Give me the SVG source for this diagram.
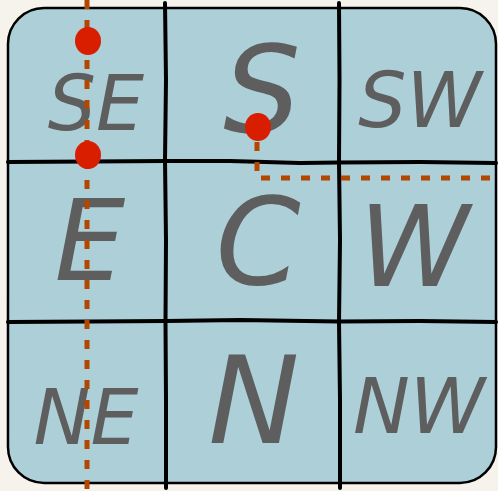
<svg xmlns="http://www.w3.org/2000/svg" width="498" height="491" viewBox="0 0 498 491">
  <style>
    .lbl { font-family: "DejaVu Sans", "Liberation Sans", sans-serif; font-style: italic; fill: #5e5e5e; text-anchor: middle; }
    .big { font-size: 122px; }
    .mid { font-size: 112px; }
    .sm { font-size: 76px; }
    .grid { fill: none; stroke: #000; stroke-width: 4; stroke-linecap: round; stroke-linejoin: round; }
    .dash { fill: none; stroke: #b34700; stroke-width: 5; stroke-dasharray: 9 11; }
    .dot { fill: #d91e00; }
  </style>
  <rect width="498" height="491" fill="#f6f3ec"/>
  <g id="board">
    <rect x="8" y="8" width="488" height="475" rx="36" ry="36" fill="#accfd8" stroke="#000" stroke-width="2.5"/>
  </g>
  <g id="grid">
    <path class="grid" d="M165,3 L166,80 L165,160 L166,240 L165.5,322 L166,400 L166,488"/>
    <path class="grid" d="M339,3 L339.5,80 L339,162 L340,240 L339,322 L340,400 L340,488"/>
    <path class="grid" d="M8,162 L90,161.5 L166,161 L230,161 L300,163 L339,162.5 L420,162 L496,163"/>
    <path class="grid" d="M8,322 L90,321.5 L166,321 L240,320 L339,321.5 L420,321 L496,322"/>
  </g>
  <g id="cell-SE"><text class="lbl sm" x="96" y="130">SE</text></g>
  <g id="cell-S"><text class="lbl big" x="262" y="132">S</text></g>
  <g id="cell-SW"><text class="lbl sm" x="420" y="127">SW</text></g>
  <g id="cell-E"><text class="lbl mid" x="90" y="280">E</text></g>
  <g id="cell-C"><text class="lbl big" x="258" y="284">C</text></g>
  <g id="cell-W"><text class="lbl mid" x="414" y="286">W</text></g>
  <g id="cell-NE"><text class="lbl sm" x="86" y="444">NE</text></g>
  <g id="cell-N"><text class="lbl big" x="254" y="443">N</text></g>
  <g id="cell-NW"><text class="lbl sm" x="419" y="433">NW</text></g>
  <g id="connectors">
    <path class="dash" d="M87,0 L87,491"/>
    <path class="dash" d="M257,142 L257,178 L498,178"/>
  </g>
  <g id="dot-1"><ellipse class="dot" cx="88" cy="41" rx="13" ry="14"/></g>
  <g id="dot-2"><ellipse class="dot" cx="88" cy="155" rx="13" ry="14"/></g>
  <g id="dot-3"><ellipse class="dot" cx="258" cy="127" rx="13" ry="14"/></g>
</svg>
